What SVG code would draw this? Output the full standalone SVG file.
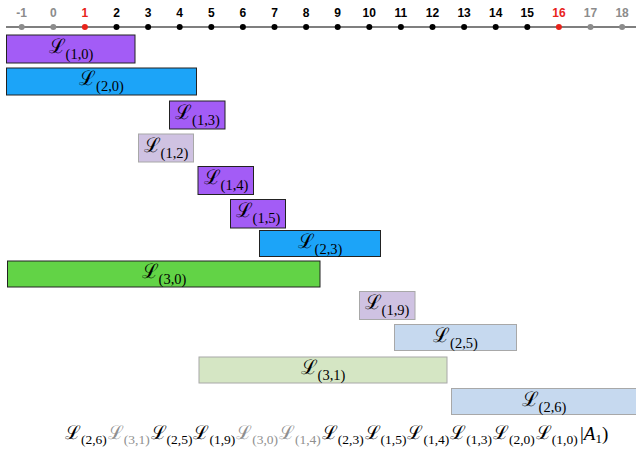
<svg xmlns="http://www.w3.org/2000/svg" width="636" height="456" viewBox="0 0 636 456">
  <style>
    .tick { font-family: "Liberation Sans", Arial, sans-serif; font-size: 12px; font-weight: bold; text-anchor: middle; }
    .blk { fill: #000; }
    .gry { fill: #8c8c8c; }
    .red { fill: #e8231a; }
    .lbl { font-family: "DejaVu Serif", "Liberation Serif", serif; text-anchor: middle; fill: #000; }
    .L { font-size: 20px; }
    .sub { font-family: "Liberation Serif", serif; font-size: 14.5px; }
    .eq { font-family: "DejaVu Serif", "Liberation Serif", serif; fill: #000; }
    .eq .L { font-size: 19px; }
    .eq .sub { font-size: 13.5px; }
    .faded { fill: #8f8f8f; }
    .dark rect { stroke: #222; stroke-width: 1; }
    .light rect { stroke: #a8a8a8; stroke-width: 1; }
  </style>

  <!-- number line -->
  <g id="axis">
    <line x1="6" y1="27" x2="636" y2="27" stroke="#000" stroke-width="1.2"/>
    <g>
      <circle cx="21.7" cy="27" r="3" class="gry"/>
      <circle cx="53.3" cy="27" r="3" class="gry"/>
      <circle cx="84.9" cy="27" r="3" class="red"/>
      <circle cx="116.5" cy="27" r="3" class="blk"/>
      <circle cx="148.1" cy="27" r="3" class="blk"/>
      <circle cx="179.7" cy="27" r="3" class="blk"/>
      <circle cx="211.3" cy="27" r="3" class="blk"/>
      <circle cx="242.9" cy="27" r="3" class="blk"/>
      <circle cx="274.5" cy="27" r="3" class="blk"/>
      <circle cx="306.1" cy="27" r="3" class="blk"/>
      <circle cx="337.7" cy="27" r="3" class="blk"/>
      <circle cx="369.3" cy="27" r="3" class="blk"/>
      <circle cx="400.9" cy="27" r="3" class="blk"/>
      <circle cx="432.5" cy="27" r="3" class="blk"/>
      <circle cx="464.1" cy="27" r="3" class="blk"/>
      <circle cx="495.7" cy="27" r="3" class="blk"/>
      <circle cx="527.3" cy="27" r="3" class="blk"/>
      <circle cx="558.9" cy="27" r="3" class="red"/>
      <circle cx="590.5" cy="27" r="3" class="gry"/>
      <circle cx="622.1" cy="27" r="3" class="gry"/>
    </g>
    <g class="tick">
      <text x="21.7" y="17" class="gry">-1</text>
      <text x="53.3" y="17" class="gry">0</text>
      <text x="84.9" y="17" class="red">1</text>
      <text x="116.5" y="17" class="blk">2</text>
      <text x="148.1" y="17" class="blk">3</text>
      <text x="179.7" y="17" class="blk">4</text>
      <text x="211.3" y="17" class="blk">5</text>
      <text x="242.9" y="17" class="blk">6</text>
      <text x="274.5" y="17" class="blk">7</text>
      <text x="306.1" y="17" class="blk">8</text>
      <text x="337.7" y="17" class="blk">9</text>
      <text x="369.3" y="17" class="blk">10</text>
      <text x="400.9" y="17" class="blk">11</text>
      <text x="432.5" y="17" class="blk">12</text>
      <text x="464.1" y="17" class="blk">13</text>
      <text x="495.7" y="17" class="blk">14</text>
      <text x="527.3" y="17" class="blk">15</text>
      <text x="558.9" y="17" class="red">16</text>
      <text x="590.5" y="17" class="gry">17</text>
      <text x="622.1" y="17" class="gry">18</text>
    </g>
  </g>

  <!-- interval bars -->
  <g id="L10" class="dark">
    <rect x="6.5" y="35" width="128.5" height="28" fill="#a35cf6"/>
    <text x="71" y="52.5" class="lbl"><tspan class="L">ℒ</tspan><tspan class="sub" dy="6">(1,0)</tspan></text>
  </g>
  <g id="L20" class="dark">
    <rect x="6.5" y="68" width="190" height="27" fill="#1ca4f8"/>
    <text x="101.5" y="85" class="lbl"><tspan class="L">ℒ</tspan><tspan class="sub" dy="6">(2,0)</tspan></text>
  </g>
  <g id="L13" class="dark">
    <rect x="169.5" y="101" width="55.5" height="28" fill="#a35cf6"/>
    <text x="197.5" y="118.5" class="lbl"><tspan class="L">ℒ</tspan><tspan class="sub" dy="6">(1,3)</tspan></text>
  </g>
  <g id="L12" class="light">
    <rect x="138.5" y="134" width="55" height="28" fill="#cfc2e2"/>
    <text x="166" y="151.5" class="lbl"><tspan class="L">ℒ</tspan><tspan class="sub" dy="6">(1,2)</tspan></text>
  </g>
  <g id="L14" class="dark">
    <rect x="198" y="166.5" width="55.5" height="28" fill="#a35cf6"/>
    <text x="226" y="184" class="lbl"><tspan class="L">ℒ</tspan><tspan class="sub" dy="6">(1,4)</tspan></text>
  </g>
  <g id="L15" class="dark">
    <rect x="230.5" y="199.5" width="55" height="28.5" fill="#a35cf6"/>
    <text x="258" y="217" class="lbl"><tspan class="L">ℒ</tspan><tspan class="sub" dy="6">(1,5)</tspan></text>
  </g>
  <g id="L23" class="dark">
    <rect x="259.5" y="230.5" width="121" height="26" fill="#1ca4f8"/>
    <text x="320" y="247.5" class="lbl"><tspan class="L">ℒ</tspan><tspan class="sub" dy="6">(2,3)</tspan></text>
  </g>
  <g id="L30" class="dark">
    <rect x="7.5" y="261" width="312.5" height="26" fill="#62d346"/>
    <text x="164" y="278" class="lbl"><tspan class="L">ℒ</tspan><tspan class="sub" dy="6">(3,0)</tspan></text>
  </g>
  <g id="L19" class="light">
    <rect x="359.5" y="291.5" width="55.5" height="28" fill="#cfc2e2"/>
    <text x="387" y="309" class="lbl"><tspan class="L">ℒ</tspan><tspan class="sub" dy="6">(1,9)</tspan></text>
  </g>
  <g id="L25" class="light">
    <rect x="394.5" y="324.5" width="122" height="26" fill="#c6d9ef"/>
    <text x="455.5" y="341.5" class="lbl"><tspan class="L">ℒ</tspan><tspan class="sub" dy="6">(2,5)</tspan></text>
  </g>
  <g id="L31" class="light">
    <rect x="199" y="357" width="248" height="26" fill="#d5e6c4"/>
    <text x="323" y="374" class="lbl"><tspan class="L">ℒ</tspan><tspan class="sub" dy="6">(3,1)</tspan></text>
  </g>
  <g id="L26" class="light">
    <rect x="451.5" y="388.5" width="185" height="26" fill="#c6d9ef"/>
    <text x="544" y="405.5" class="lbl"><tspan class="L">ℒ</tspan><tspan class="sub" dy="6">(2,6)</tspan></text>
  </g>

  <!-- product expression -->
  <g id="expression" class="eq">
    <text x="65" y="439"><tspan class="L">ℒ</tspan><tspan class="sub" dy="5">(2,6)</tspan></text>
    <text x="107.8" y="439" class="faded"><tspan class="L">ℒ</tspan><tspan class="sub" dy="5">(3,1)</tspan></text>
    <text x="150.6" y="439"><tspan class="L">ℒ</tspan><tspan class="sub" dy="5">(2,5)</tspan></text>
    <text x="193.4" y="439"><tspan class="L">ℒ</tspan><tspan class="sub" dy="5">(1,9)</tspan></text>
    <text x="236.2" y="439" class="faded"><tspan class="L">ℒ</tspan><tspan class="sub" dy="5">(3,0)</tspan></text>
    <text x="279" y="439" class="faded"><tspan class="L">ℒ</tspan><tspan class="sub" dy="5">(1,4)</tspan></text>
    <text x="321.8" y="439"><tspan class="L">ℒ</tspan><tspan class="sub" dy="5">(2,3)</tspan></text>
    <text x="364.6" y="439"><tspan class="L">ℒ</tspan><tspan class="sub" dy="5">(1,5)</tspan></text>
    <text x="407.4" y="439"><tspan class="L">ℒ</tspan><tspan class="sub" dy="5">(1,4)</tspan></text>
    <text x="450.2" y="439"><tspan class="L">ℒ</tspan><tspan class="sub" dy="5">(1,3)</tspan></text>
    <text x="493" y="439"><tspan class="L">ℒ</tspan><tspan class="sub" dy="5">(2,0)</tspan></text>
    <text x="535.8" y="439"><tspan class="L">ℒ</tspan><tspan class="sub" dy="5">(1,0)</tspan></text>
    <text x="580" y="440" font-family="Liberation Serif, serif" font-size="19">|<tspan font-style="italic">A</tspan><tspan font-size="13" dy="3">1</tspan><tspan dy="-3">)</tspan></text>
  </g>
</svg>
